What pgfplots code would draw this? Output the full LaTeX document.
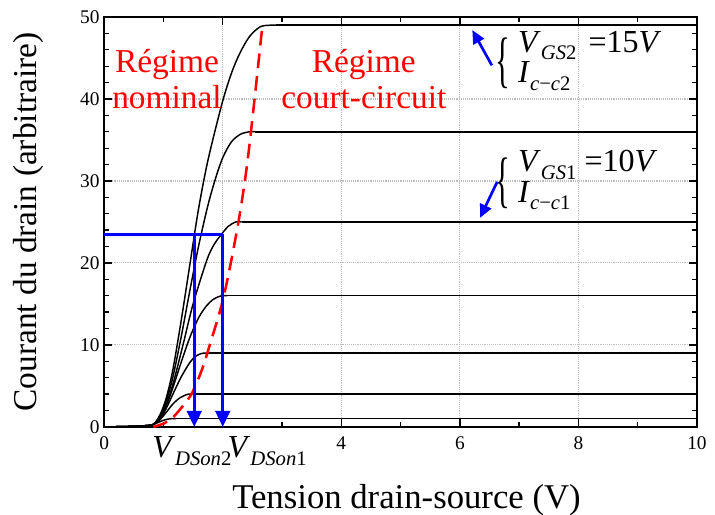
\documentclass[border=0pt]{standalone}
\usepackage{fontspec}
\setmainfont{Liberation Serif}
\usepackage{graphicx}
\usepackage{pgfplots}
\pgfplotsset{compat=1.18}
\usetikzlibrary{arrows.meta}
% large italic letter with a low, big subscript (as in the figure)
\newcommand{\Vs}[2]{\textit{#1}\raisebox{-5.5pt}{\fontsize{15.5}{18}\selectfont #2}}
\newcommand{\lbr}{\scalebox{0.5}[1]{\{}}

\begin{document}
\begin{tikzpicture}
\begin{axis}[
  scale only axis, width=444pt, height=307pt,
  xmin=0, xmax=10, ymin=0, ymax=50,
  xtick={0,2,4,6,8,10}, xticklabels={0,,4,6,8,10},
  minor x tick num=1,
  ytick={0,10,...,50}, minor y tick num=4,
  tick align=inside,
  major tick length=6pt, minor tick length=3.5pt,
  grid=major,
  major grid style={densely dotted, black!25, line width=0.8pt},
  axis line style={line width=1.4pt},
  tick style={line width=1pt, black},
  ticklabel style={font=\fontsize{14.5}{16}\selectfont},
  xticklabel style={yshift=-4pt},
  /pgf/number format/assume math mode=true,
  xlabel={Tension drain-source (V)},
  ylabel={Courant du drain (arbitraire)},
  xlabel style={font=\fontsize{26}{28}\selectfont, at={(axis description cs:0.51,-0.179)}, anchor=center},
  ylabel style={font=\fontsize{25}{28}\selectfont, at={(axis description cs:-0.128,0.5)}, anchor=center},
  clip=false,
  curve/.style={black, line width=1.1pt, smooth, tension=0.5},
  flat/.style={black, line width=1.1pt},
]
% curves I_D(V_DS), one per V_GS: rising part, then flat saturation
\addplot[curve] coordinates {
 (0,0) (0.4,0.05) (0.7,0.15) (0.83,0.3) (0.95,1.6) (1.05,3.6) (1.16,7) (1.3,13)
 (1.45,20) (1.59,26.5) (1.75,32.5) (1.99,39.5) (2.15,43.2) (2.29,45.6) (2.45,47.6)
 (2.63,48.8) (2.8,49) (2.9,49)};
\addplot[flat] coordinates {(2.9,49) (10,49)};
\addplot[curve] coordinates {
 (0,0) (0.4,0.05) (0.7,0.15) (0.83,0.3) (0.95,1.3) (1.05,3.2) (1.16,6.1) (1.3,11)
 (1.45,16.8) (1.6,22.3) (1.76,27.3) (1.9,30.8) (2.01,33) (2.15,34.8) (2.3,35.7)
 (2.45,36) (2.55,36)};
\addplot[flat] coordinates {(2.55,36) (10,36)};
\addplot[curve] coordinates {
 (0,0) (0.4,0.05) (0.7,0.15) (0.83,0.3) (0.95,1.2) (1.05,2.8) (1.16,5.2) (1.33,10)
 (1.5,15) (1.73,20.3) (1.85,22.2) (1.99,23.6) (2.1,24.5) (2.22,25) (2.32,25)};
\addplot[flat] coordinates {(2.32,25) (10,25)};
\addplot[curve] coordinates {
 (0,0) (0.4,0.05) (0.7,0.15) (0.83,0.3) (0.95,1.1) (1.05,2.6) (1.16,4.8) (1.3,7.9)
 (1.45,11) (1.6,13.4) (1.73,14.8) (1.85,15.6) (1.98,16) (2.08,16)};
\addplot[flat] coordinates {(2.08,16) (10,16)};
\addplot[curve] coordinates {
 (0,0) (0.4,0.05) (0.7,0.15) (0.83,0.3) (0.95,1.0) (1.05,2.3) (1.16,4.0) (1.3,6.1)
 (1.45,7.9) (1.56,8.7) (1.67,9) (1.77,9)};
\addplot[flat] coordinates {(1.77,9) (10,9)};
\addplot[curve] coordinates {
 (0,0) (0.4,0.05) (0.7,0.15) (0.83,0.3) (0.95,0.95) (1.05,1.8) (1.16,2.8) (1.28,3.55)
 (1.42,4) (1.52,4)};
\addplot[flat] coordinates {(1.52,4) (10,4)};
\addplot[curve] coordinates {
 (0,0) (0.4,0.05) (0.7,0.15) (0.83,0.3) (0.93,0.6) (1.02,0.85) (1.12,1) (1.22,1)};
\addplot[flat] coordinates {(1.22,1) (10,1)};
% saturation limit
\addplot[red, line width=1.9pt, dash pattern=on 11pt off 6pt, smooth, tension=0.5] coordinates {
 (0.83,0) (1.0,0.4) (1.15,1.1) (1.3,2.3) (1.48,4.1) (1.65,7) (1.79,10.2) (1.99,15.1)
 (2.15,20.5) (2.3,26.5) (2.42,32.5) (2.54,40.2) (2.67,49)};
% V_DSon construction
\addplot[blue, line width=2pt] coordinates {(0,23.5) (2.0,23.5)};
\addplot[blue, line width=2pt, -{Triangle[width=11pt,length=12pt]}] coordinates {(1.52,23.5) (1.52,0)};
\addplot[blue, line width=2pt, -{Triangle[width=11pt,length=12pt]}] coordinates {(2.0,23.5) (2.0,0)};

\node[anchor=north west, inner sep=0pt, font=\fontsize{24}{26}\selectfont] at (axis cs:0.81,-1.2) {\Vs{V}{\textit{DSon}2}};
\node[anchor=north west, inner sep=0pt, font=\fontsize{24}{26}\selectfont] at (axis cs:2.08,-1.2) {\Vs{V}{\textit{DSon}1}};

\node[red, align=center, font=\fontsize{25}{27}\selectfont] at (axis cs:1.06,42.4) {Régime\\nominal};
\node[red, align=center, font=\fontsize{25}{27}\selectfont] at (axis cs:4.38,42.4) {Régime\\court-circuit};

% V_GS annotations
\node[inner sep=0pt, font=\fontsize{46}{46}\selectfont] at (axis cs:6.72,44.3) {\lbr};
\node[anchor=west, inner sep=0pt, font=\fontsize{24}{23}\selectfont] at (axis cs:6.98,44.6)
  {\begin{tabular}{@{}l@{}} \Vs{V}{\textit{GS}2}\hspace{9pt}=15\textit{V}\\ \Vs{I}{\textit{c}−\textit{c}2}\end{tabular}};
\node[inner sep=0pt, font=\fontsize{46}{46}\selectfont] at (axis cs:6.72,29.7) {\lbr};
\node[anchor=west, inner sep=0pt, font=\fontsize{24}{23}\selectfont] at (axis cs:6.98,30.0)
  {\begin{tabular}{@{}l@{}} \Vs{V}{\textit{GS}1}\hspace{6pt}=10\textit{V}\\ \Vs{I}{\textit{c}−\textit{c}1}\end{tabular}};
\draw[blue, line width=2pt, -{Triangle[width=9pt,length=10pt]}] (axis cs:6.54,44.1) -- (axis cs:6.21,48.4);
\draw[blue, line width=2pt, -{Triangle[width=9pt,length=10pt]}] (axis cs:6.63,29.9) -- (axis cs:6.34,25.5);

\coordinate (bl) at (axis description cs:-0.1757,-0.2146);
\coordinate (tr) at (axis description cs:1.0304,1.0415);
\end{axis}
\pgfresetboundingbox
\path[use as bounding box] (bl) rectangle (tr);
\end{tikzpicture}
\end{document}
